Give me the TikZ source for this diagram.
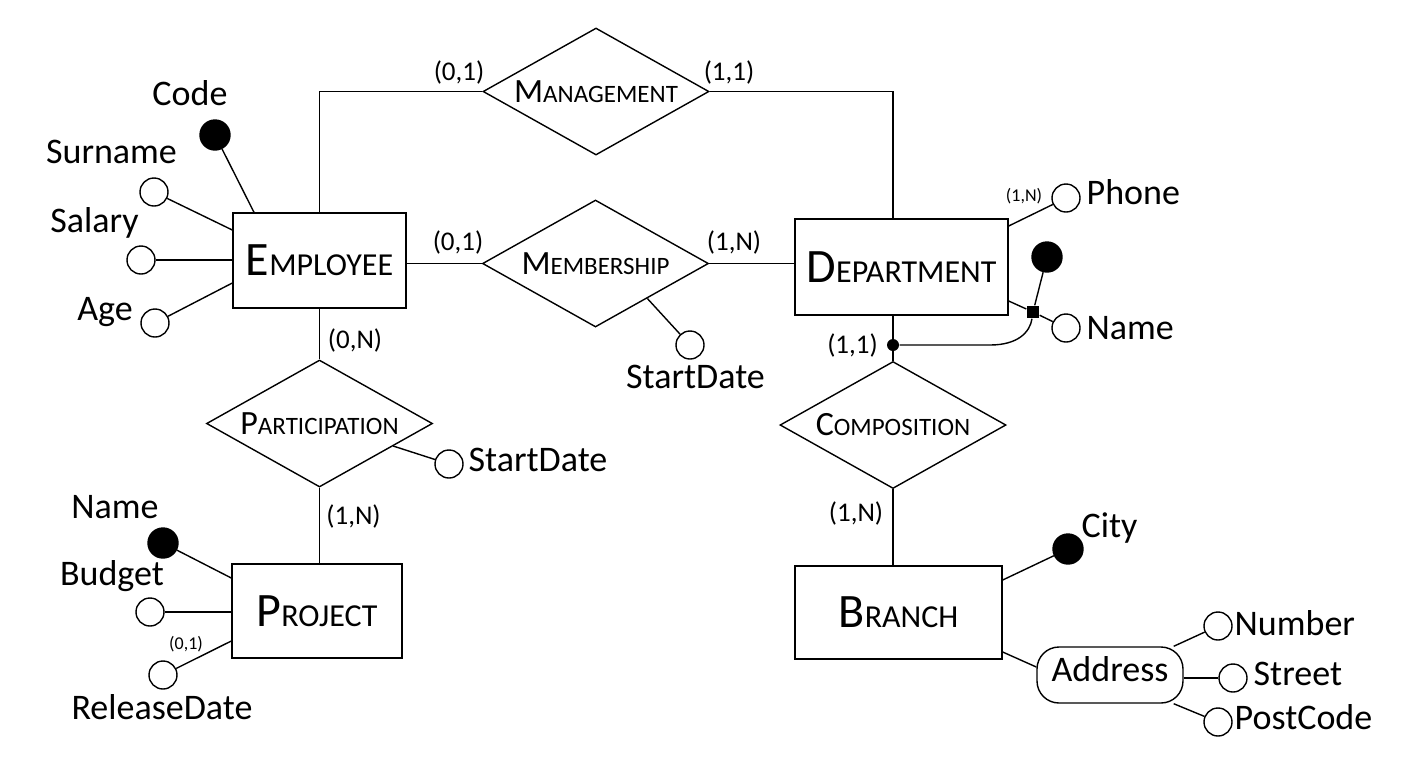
\documentclass[tikz,border=0pt]{standalone}
\usepackage{fontspec}
\setmainfont{Carlito}
\usetikzlibrary{shapes.geometric}
\newcommand\entname[2]{{\fontsize{24}{24}\selectfont #1}{\fontsize{16}{16}\selectfont #2}}
\newcommand\relname[2]{\makebox[0pt]{{\fontsize{17}{17}\selectfont #1}{\fontsize{12.5}{12.5}\selectfont #2}}}
\begin{document}
\begin{tikzpicture}
    [x=0.5pt, y=-0.5pt, line width=0.7pt,
     ent/.style={draw, rectangle, inner sep=0pt},
     rel/.style={draw, diamond, inner sep=0pt, minimum width=113pt, minimum height=63.5pt},
     att/.style={draw, circle, inner sep=0pt, minimum size=14pt},
     idatt/.style={att, fill=black, minimum size=15pt},
     lab/.style={inner sep=0pt, text height=1.4ex, text depth=0pt, font=\fontsize{18}{18}\selectfont},
     card/.style={inner sep=0pt, font=\fontsize{13.5}{13.5}\selectfont},
     smallcard/.style={inner sep=0pt, font=\fontsize{9}{9}\selectfont}]
    \useasboundingbox (0,0) rectangle (1420,768);

    % entities and relationships
    \node[ent, minimum width=86.5pt, minimum height=47.5pt] (E) at (319.5,260.5) {\entname{E}{MPLOYEE}};
    \node[ent, minimum width=106.5pt, minimum height=48pt] (D) at (901.5,267) {\entname{D}{EPARTMENT}};
    \node[ent, minimum width=85pt, minimum height=47pt] (P) at (317,611) {\entname{P}{ROJECT}};
    \node[ent, minimum width=103.5pt, minimum height=46.5pt] (B) at (898.5,612.5) {\entname{B}{RANCH}};
    \node[rel] (M) at (596,91.5) {\relname{M}{ANAGEMENT}};
    \node[rel] (Ms) at (595.5,263.5) {\relname{M}{EMBERSHIP}};
    \node[rel] (Pa) at (319.5,423.5) {\relname{P}{ARTICIPATION}};
    \node[rel] (C) at (893,425) {\relname{C}{OMPOSITION}};

    \draw (E.north) |- (M.west);
    \draw (M.east) -| (D.north -| C.north);
    \draw (E.east |- Ms.west) -- (Ms.west);
    \draw (Ms.east) -- (Ms.east -| D.west);
    \draw (E.south) -- (Pa.north);
    \draw (Pa.south) -- (Pa.south |- P.north);
    \draw (D.south -| C.north) -- (C.north);
    \draw (C.south) -- (C.south |- B.north);

    \node[card] (c1) at (459,72.5) {(0,1)};
    \node[card] (c2) at (729,72.5) {(1,1)};
    \node[card] (c3) at (458,242.5) {(0,1)};
    \node[card] (c4) at (734,242.5) {(1,N)};
    \node[card] (c5) at (355,340) {(0,N)};
    \node[card] (c6) at (353.5,516.5) {(1,N)};
    \node[card] (c7) at (852.5,345) {(1,1)};
    \node[card] (c8) at (856,513.5) {(1,N)};

    % employee
    \node[idatt] (Ecode) at (215,135) {};
    \node[lab] (EcodeL) at (190,98.5) {Code};
    \draw (Ecode) -- ([xshift=-32.75pt]E.north);
    \node[att] (Esur) at (154,192) {};
    \node[lab] (EsurL) at (111.5,156.5) {Surname};
    \draw (Esur) -- ([yshift=15.25pt]E.west);
    \node[att] (Esal) at (141,260) {};
    \node[lab] (EsalL) at (94.5,226) {Salary};
    \draw (Esal) -- (Esal -| E.west);
    \node[att] (Eage) at (155,323) {};
    \node[lab] (EageL) at (105,314) {Age};
    \draw (Eage) -- ([yshift=-11.25pt]E.west);

    % membership, participation
    \node[att] (Msd) at (690,345) {};
    \node[lab] (MsdL) at (695.5,381.5) {StartDate};
    \draw (Ms.-34) -- (Msd);
    \node[att] (Psd) at (449,464) {};
    \node[lab, anchor=west] (PsdL) at (468,464.5) {StartDate};
    \draw (Pa.-17) -- (Psd);

    % project
    \node[idatt] (Pname) at (163,543) {};
    \node[lab] (PnameL) at (115,512) {Name};
    \draw (Pname) -- ([yshift=16.5pt]P.west);
    \node[att] (Pbud) at (150,612) {};
    \node[lab] (PbudL) at (112,578.5) {Budget};
    \draw (Pbud) -- (Pbud -| P.west);
    \node[att] (Prel) at (163,675) {};
    \node[lab] (PrelL) at (162,712.5) {ReleaseDate};
    \node[smallcard] (Prelc) at (186,644) {(0,1)};
    \draw (Prel) -- ([yshift=-15pt]P.west);

    % department
    \node[att] (Dph) at (1066,198) {};
    \node[lab, anchor=west] (DphL) at (1086,197.5) {Phone};
    \node[smallcard] (Dphc) at (1024,196.5) {(1,N)};
    \draw ([yshift=20.5pt]D.east) -- (Dph);
    \node[rectangle, fill=black, inner sep=0pt, minimum size=6pt] (Dsq) at (1033,312) {};
    \node[idatt] (Did) at (1047,257) {};
    \node[att] (Dname) at (1066,328) {};
    \node[lab, anchor=west] (DnameL) at (1086,332.5) {Name};
    \draw ([yshift=-17pt]D.east) -- (Dsq);
    \draw (Dsq) -- (Did);
    \draw (Dsq) -- (Dname);
    \node[circle, fill=black, inner sep=0pt, minimum size=6pt] (Ddot) at (893,345) {};
    \coordinate (Dbend) at (990,345);
    \draw (Ddot) -- (Dbend) .. controls (1018,345) and (1030,332) .. (Dsq);

    % branch
    \node[idatt] (Bcity) at (1068,549) {};
    \node[lab, anchor=west] (BcityL) at (1081,530.5) {City};
    \draw ([yshift=16.25pt]B.east) -- (Bcity);
    \node[lab, draw, rounded corners=11pt, minimum width=73pt, minimum height=28pt] (Badr) at (1110,675) {Address};
    \draw ([yshift=-19.75pt]B.east) -- ([yshift=4pt]Badr.west);
    \node[att] (Bnum) at (1218,626) {};
    \node[lab, anchor=west] (BnumL) at (1234,628.5) {Number};
    \draw ([xshift=-5pt]Badr.north east) -- (Bnum);
    \node[att] (Bstr) at (1233,678) {};
    \node[lab, anchor=west] (BstrL) at (1253,678.5) {Street};
    \draw (Bstr -| Badr.east) -- (Bstr);
    \node[att] (Bpc) at (1218,722) {};
    \node[lab, anchor=west] (BpcL) at (1234,722.5) {PostCode};
    \draw ([xshift=-5pt]Badr.south east) -- (Bpc);
\end{tikzpicture}
\end{document}
